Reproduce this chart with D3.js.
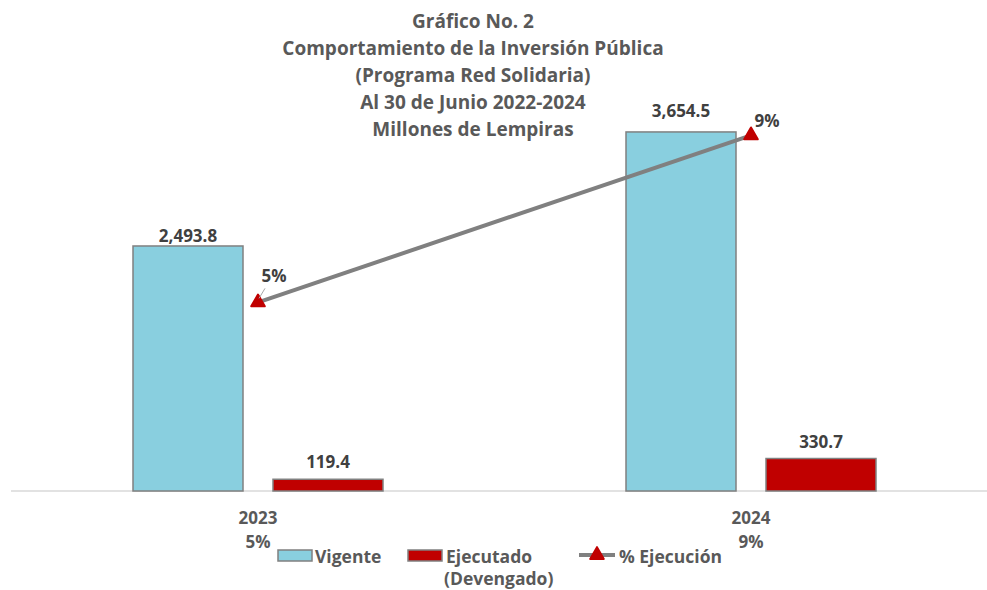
<!DOCTYPE html>
<html>
<head>
<meta charset="utf-8">
<script src="https://cdn.jsdelivr.net/npm/d3@7"></script>
<style>
  body { margin: 0; background: white; }
  text { font-family: "Open Sans", Lato, sans-serif; font-weight: bold; }
</style>
</head>
<body>
<div id="container"></div>
<script>
let w = 987;
let h = 590;

// chart data
let years = ["2023", "2024"];
let seriesNames = ["Vigente", "Ejecutado"];
let vigente = [2493.8, 3654.5];
let ejecutado = [119.4, 330.7];
let ejecucion = [0.048, 0.0905];
let ejecucionLabels = ["5%", "9%"];
let titleLines = ["Gráfico No. 2", "Comportamiento de la Inversión Pública",
  "(Programa Red Solidaria)", "Al 30 de Junio 2022-2024", "Millones de Lempiras"];

let colors = { Vigente: "#89CFDF", Ejecutado: "#C00000" };
let textColor = "#595959";

let viz = d3.select("#container")
  .append("svg")
    .attr("width", w)
    .attr("height", h)
    .style("background-color", "white")
;

// scales
let xScale = d3.scaleBand().domain(years).range([11.5, 997.5]).paddingInner(0).paddingOuter(0);
let xInner = d3.scaleBand().domain(seriesNames).range([-125, 125]).paddingInner(30 / 140);
let yScale = d3.scaleLinear().domain([0, 4000]).range([491, 98]);
let y2Scale = d3.scaleLinear().domain([0, 0.10]).range([491, 98]);

function center(year){
  return xScale(year) + xScale.bandwidth() / 2;
}

// title
viz.append("g").selectAll("text").data(titleLines).enter()
  .append("text")
    .attr("x", 473)
    .attr("y", function(d, i){ return 28 + i * 27; })
    .attr("text-anchor", "middle")
    .attr("font-size", 19)
    .attr("fill", textColor)
    .text(function(d){ return d; })
;

// baseline
viz.append("line")
  .attr("x1", 11).attr("x2", w)
  .attr("y1", yScale(0)).attr("y2", yScale(0))
  .attr("stroke", "#d9d9d9")
  .attr("stroke-width", 1.5)
;

// bars
let barData = [];
years.forEach(function(y, i){
  barData.push({ year: y, series: "Vigente", value: vigente[i] });
  barData.push({ year: y, series: "Ejecutado", value: ejecutado[i] });
});

viz.append("g").selectAll("rect").data(barData).enter()
  .append("rect")
    .attr("x", function(d){ return center(d.year) + xInner(d.series); })
    .attr("y", function(d){ return yScale(d.value); })
    .attr("width", xInner.bandwidth())
    .attr("height", function(d){ return yScale(0) - yScale(d.value); })
    .attr("fill", function(d){ return colors[d.series]; })
    .attr("stroke", "#808080")
    .attr("stroke-width", 1.5)
;

// bar value labels (first one sits closer to its bar, as in the original)
let labelNudge = { "2023-Vigente": 7, "2024-Vigente": -4 };
viz.append("g").selectAll("text").data(barData).enter()
  .append("text")
    .attr("x", function(d){ return center(d.year) + xInner(d.series) + xInner.bandwidth() / 2; })
    .attr("y", function(d){ return yScale(d.value) - 11 + (labelNudge[d.year + "-" + d.series] || 0); })
    .attr("text-anchor", "middle")
    .attr("font-size", 17)
    .attr("fill", "#404040")
    .text(function(d){ return d3.format(",.1f")(d.value); })
;

// % ejecucion line
let lineData = years.map(function(y, i){ return { year: y, value: ejecucion[i], label: ejecucionLabels[i] }; });
let line = d3.line()
  .x(function(d){ return center(d.year); })
  .y(function(d){ return y2Scale(d.value); });

viz.append("path")
  .datum(lineData)
  .attr("d", line)
  .attr("fill", "none")
  .attr("stroke", "#808080")
  .attr("stroke-width", 4)
;

let triangle = d3.symbol().type(d3.symbolTriangle).size(80);
viz.append("g").selectAll("path").data(lineData).enter()
  .append("path")
    .attr("d", triangle)
    .attr("transform", function(d){ return "translate(" + center(d.year) + "," + y2Scale(d.value) + ")"; })
    .attr("fill", "#C00000")
    .attr("stroke", "#C00000")
    .attr("stroke-width", 2)
    .attr("stroke-linejoin", "round")
;

// percent labels
viz.append("g").selectAll("text").data(lineData).enter()
  .append("text")
    .attr("x", function(d){ return center(d.year) + 16; })
    .attr("y", function(d, i){ return y2Scale(d.value) - (i === 0 ? 20 : 8); })
    .attr("text-anchor", "middle")
    .attr("font-size", 17)
    .attr("fill", "#404040")
    .text(function(d){ return d.label; })
;
// leader line for the first label
viz.append("line")
  .attr("x1", center(years[0]) + 7).attr("y1", y2Scale(ejecucion[0]) - 14)
  .attr("x2", center(years[0]) + 1).attr("y2", y2Scale(ejecucion[0]) - 4)
  .attr("stroke", "#a6a6a6")
  .attr("stroke-width", 1)
;

// category labels
let cats = viz.append("g").selectAll("g").data(lineData).enter()
  .append("g")
    .attr("transform", function(d){ return "translate(" + center(d.year) + ",0)"; })
;
cats.append("text")
  .attr("y", 524)
  .attr("text-anchor", "middle")
  .attr("font-size", 17)
  .attr("fill", textColor)
  .text(function(d){ return d.year; })
;
cats.append("text")
  .attr("y", 548)
  .attr("text-anchor", "middle")
  .attr("font-size", 17)
  .attr("fill", textColor)
  .text(function(d){ return d.label; })
;

// legend
let legend = viz.append("g");
legend.append("rect")
  .attr("x", 278).attr("y", 550).attr("width", 34).attr("height", 11)
  .attr("fill", colors.Vigente).attr("stroke", "#808080").attr("stroke-width", 1.5);
legend.append("text")
  .attr("x", 315).attr("y", 563)
  .attr("font-size", 17.5).attr("fill", textColor)
  .text("Vigente");

legend.append("rect")
  .attr("x", 408).attr("y", 550).attr("width", 34).attr("height", 11)
  .attr("fill", colors.Ejecutado).attr("stroke", "#808080").attr("stroke-width", 1.5);
legend.append("text")
  .attr("x", 446).attr("y", 563)
  .attr("font-size", 17.5).attr("fill", textColor)
  .text("Ejecutado");
legend.append("text")
  .attr("x", 444).attr("y", 585)
  .attr("font-size", 17.5).attr("fill", textColor)
  .text("(Devengado)");

legend.append("line")
  .attr("x1", 579).attr("x2", 615).attr("y1", 555).attr("y2", 555)
  .attr("stroke", "#808080").attr("stroke-width", 4);
legend.append("path")
  .attr("d", triangle)
  .attr("transform", "translate(597,555)")
  .attr("fill", "#C00000").attr("stroke", "#C00000")
  .attr("stroke-width", 2).attr("stroke-linejoin", "round");
legend.append("text")
  .attr("x", 619).attr("y", 563)
  .attr("font-size", 17.5).attr("fill", textColor)
  .text("% Ejecución");
</script>
</body>
</html>
